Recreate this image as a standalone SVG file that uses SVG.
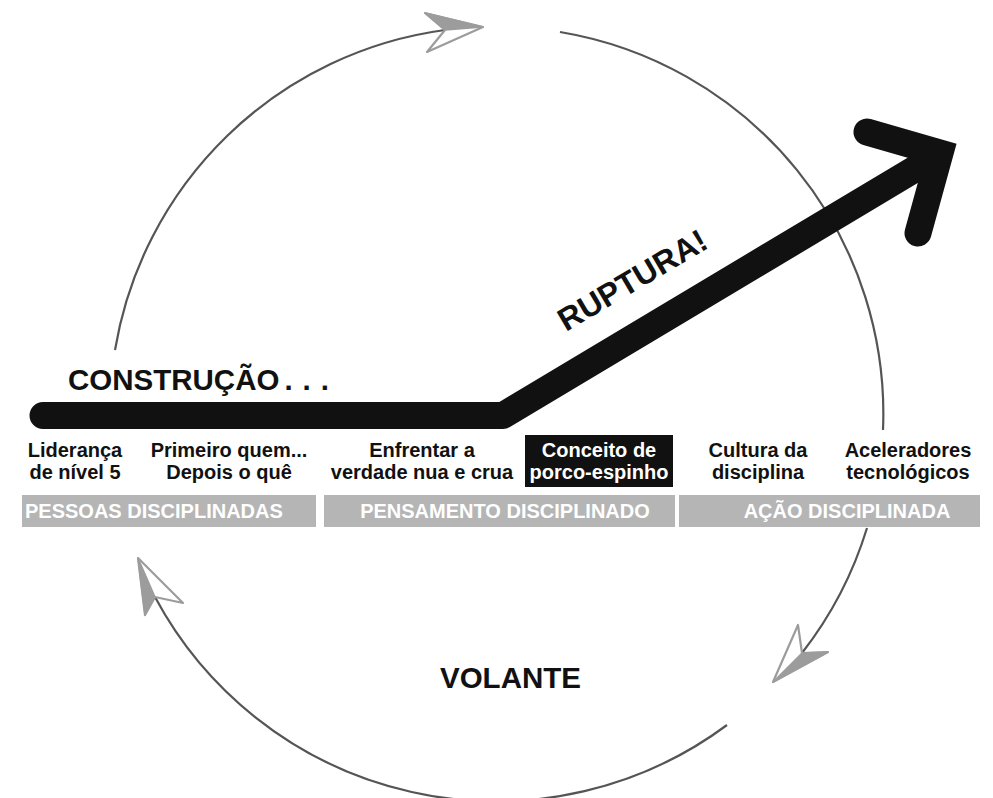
<svg xmlns="http://www.w3.org/2000/svg" width="993" height="798" viewBox="0 0 993 798">
<style>
text{font-family:"Liberation Sans",Arial,Helvetica,sans-serif;font-weight:bold}
.lbl{font-size:20px;fill:#111;text-anchor:middle}
.inv{font-size:20px;fill:#fff;text-anchor:middle}
.band{fill:#b5b5b5}
.bandt{font-size:20px;fill:#fff}
.arc{fill:none;stroke:#555;stroke-width:2.2}
.ahf{fill:#9c9c9c;stroke:#9c9c9c;stroke-width:1.5;stroke-linejoin:round}
.aho{fill:#fff;stroke:#9c9c9c;stroke-width:2.2;stroke-linejoin:round}
.big{fill:none;stroke:#111;stroke-width:27}
</style>
<rect width="993" height="798" fill="#fff"/>
<g id="connectors">
  <path class="arc" d="M115,350 A387,387 0 0 1 445,30"/>
  <path class="arc" d="M560,32 A387,387 0 0 1 883,430"/>
  <path class="arc" d="M867,528 A387,387 0 0 1 802,653"/>
  <path class="arc" d="M727,725 A387,387 0 0 1 155,597"/>
  <g id="arrowhead-top">
    <polygon class="aho" points="483,27 425,13 445,30 427,52"/>
    <polygon class="ahf" points="483,27 425,13 445,30"/>
  </g>
  <g id="arrowhead-right">
    <polygon class="aho" points="773,682 798,625 802,653 828,652"/>
    <polygon class="ahf" points="773,682 802,653 828,652"/>
  </g>
  <g id="arrowhead-left">
    <polygon class="aho" points="138,558 183,603 155,597 145,615"/>
    <polygon class="ahf" points="138,558 155,597 145,615"/>
  </g>
</g>
<g id="main-arrow">
  <polyline class="big" points="43,415.5 503,415.5 935,157" stroke-linecap="round" stroke-linejoin="round"/>
  <polyline class="big" points="867,132 940,153 918,233" stroke-linecap="round" stroke-linejoin="miter"/>
</g>
<g id="construcao">
  <text x="68" y="390" font-size="29.5" fill="#111">CONSTRUÇÃO<tspan dx="5" letter-spacing="10">...</tspan></text>
</g>
<g id="ruptura">
  <text x="0" y="0" font-size="32" fill="#111" transform="translate(566,332) rotate(-30.5)">RUPTURA!</text>
</g>
<g id="volante">
  <text x="440" y="688" font-size="29.5" fill="#111">VOLANTE</text>
</g>
<g id="lideranca">
  <text class="lbl" x="75" y="457">Liderança</text>
  <text class="lbl" x="75" y="479">de nível 5</text>
</g>
<g id="primeiro-quem">
  <text class="lbl" x="229" y="457">Primeiro quem...</text>
  <text class="lbl" x="229" y="479">Depois o quê</text>
</g>
<g id="enfrentar">
  <text class="lbl" x="422" y="457">Enfrentar a</text>
  <text class="lbl" x="422" y="479">verdade nua e crua</text>
</g>
<g id="porco-espinho">
  <rect x="525" y="435" width="148" height="52" fill="#111"/>
  <text class="inv" x="599" y="457">Conceito de</text>
  <text class="inv" x="599" y="479">porco-espinho</text>
</g>
<g id="cultura">
  <text class="lbl" x="758" y="457">Cultura da</text>
  <text class="lbl" x="758" y="479">disciplina</text>
</g>
<g id="aceleradores">
  <text class="lbl" x="908" y="457">Aceleradores</text>
  <text class="lbl" x="908" y="479">tecnológicos</text>
</g>
<g id="pessoas">
  <rect class="band" x="22" y="495" width="294" height="32"/>
  <text class="bandt" x="25" y="518">PESSOAS DISCIPLINADAS</text>
</g>
<g id="pensamento">
  <rect class="band" x="324" y="495" width="351" height="32"/>
  <text class="bandt" x="505" y="518" text-anchor="middle">PENSAMENTO DISCIPLINADO</text>
</g>
<g id="acao">
  <rect class="band" x="679" y="495" width="301" height="32"/>
  <text class="bandt" x="847" y="518" text-anchor="middle">AÇÃO DISCIPLINADA</text>
</g>
</svg>
